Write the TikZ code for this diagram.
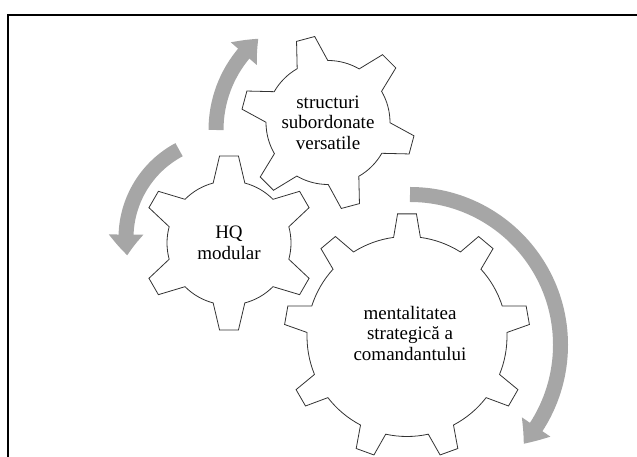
\documentclass[tikz,border=0pt]{standalone}
\usepackage{fontspec}
\setmainfont{Liberation Serif}
\usetikzlibrary{arrows.meta,bending}

% #1 teeth, #2 root radius, #3 tip radius, #4 base half-angle, #5 tip half-angle, #6 first tooth
\newcommand{\gearpath}[6]{%
  ({#6-#4}:#2) \foreach \k in {1,...,#1}{
    -- ({#6+(\k-1)*360/#1-#5}:#3) -- ({#6+(\k-1)*360/#1+#5}:#3)
    -- ({#6+(\k-1)*360/#1+#4}:#2)
    arc[start angle={#6+(\k-1)*360/#1+#4}, end angle={#6+\k*360/#1-#4}, radius=#2]
  } -- cycle}

\begin{document}
\begin{tikzpicture}[x=1pt, y=1pt,
                    gear/.style={draw=black!80, line width=0.8pt, fill=white},
                    turn/.style={draw=black!35, line width=15pt,
                                 -{Triangle[width=33pt,length=21pt,bend]}},
                    gearlabel/.style={font=\fontsize{19}{20.5}\selectfont, align=center}]
\useasboundingbox (0,0) rectangle (637,457);
\clip (0,0) rectangle (637,457);

% frame
\draw[line width=2pt] (8,-10) -- (8,442) -- (650,442);

% gear centres and arrow centres
\coordinate (g1) at (229,214);
\coordinate (g2) at (328,334.5);
\coordinate (g3) at (407,120.5);
\coordinate (a1) at (335,327);
\coordinate (a2) at (226,219);
\coordinate (a3) at (410,112);

% arrows
\draw[turn] (a1) ++(180:119) arc[start angle=180, end angle=130, radius=119];
\draw[turn] (a2) ++(118:100) arc[start angle=118, end angle=190, radius=100];
\draw[turn] (a3) ++(90:150.5) arc[start angle=90, end angle=-41, radius=150.5];

% gears
\draw[gear, shift={(g1)}] \gearpath{6}{62}{87.5}{14.8}{6.2}{90};
\draw[gear, shift={(g2)}] \gearpath{6}{62}{87}{14.8}{6.2}{105};
\draw[gear, shift={(g3)}] \gearpath{9}{100}{123}{7.7}{4.4}{90};

\node[gearlabel] (hq) at (g1) {HQ\\modular};
\node[gearlabel] (ss) at (g2) {structuri\\subordonate\\versatile};
\node[gearlabel] (ms) at ([shift={(3,3)}]g3) {mentalitatea\\strategică a\\comandantului};
\end{tikzpicture}
\end{document}
